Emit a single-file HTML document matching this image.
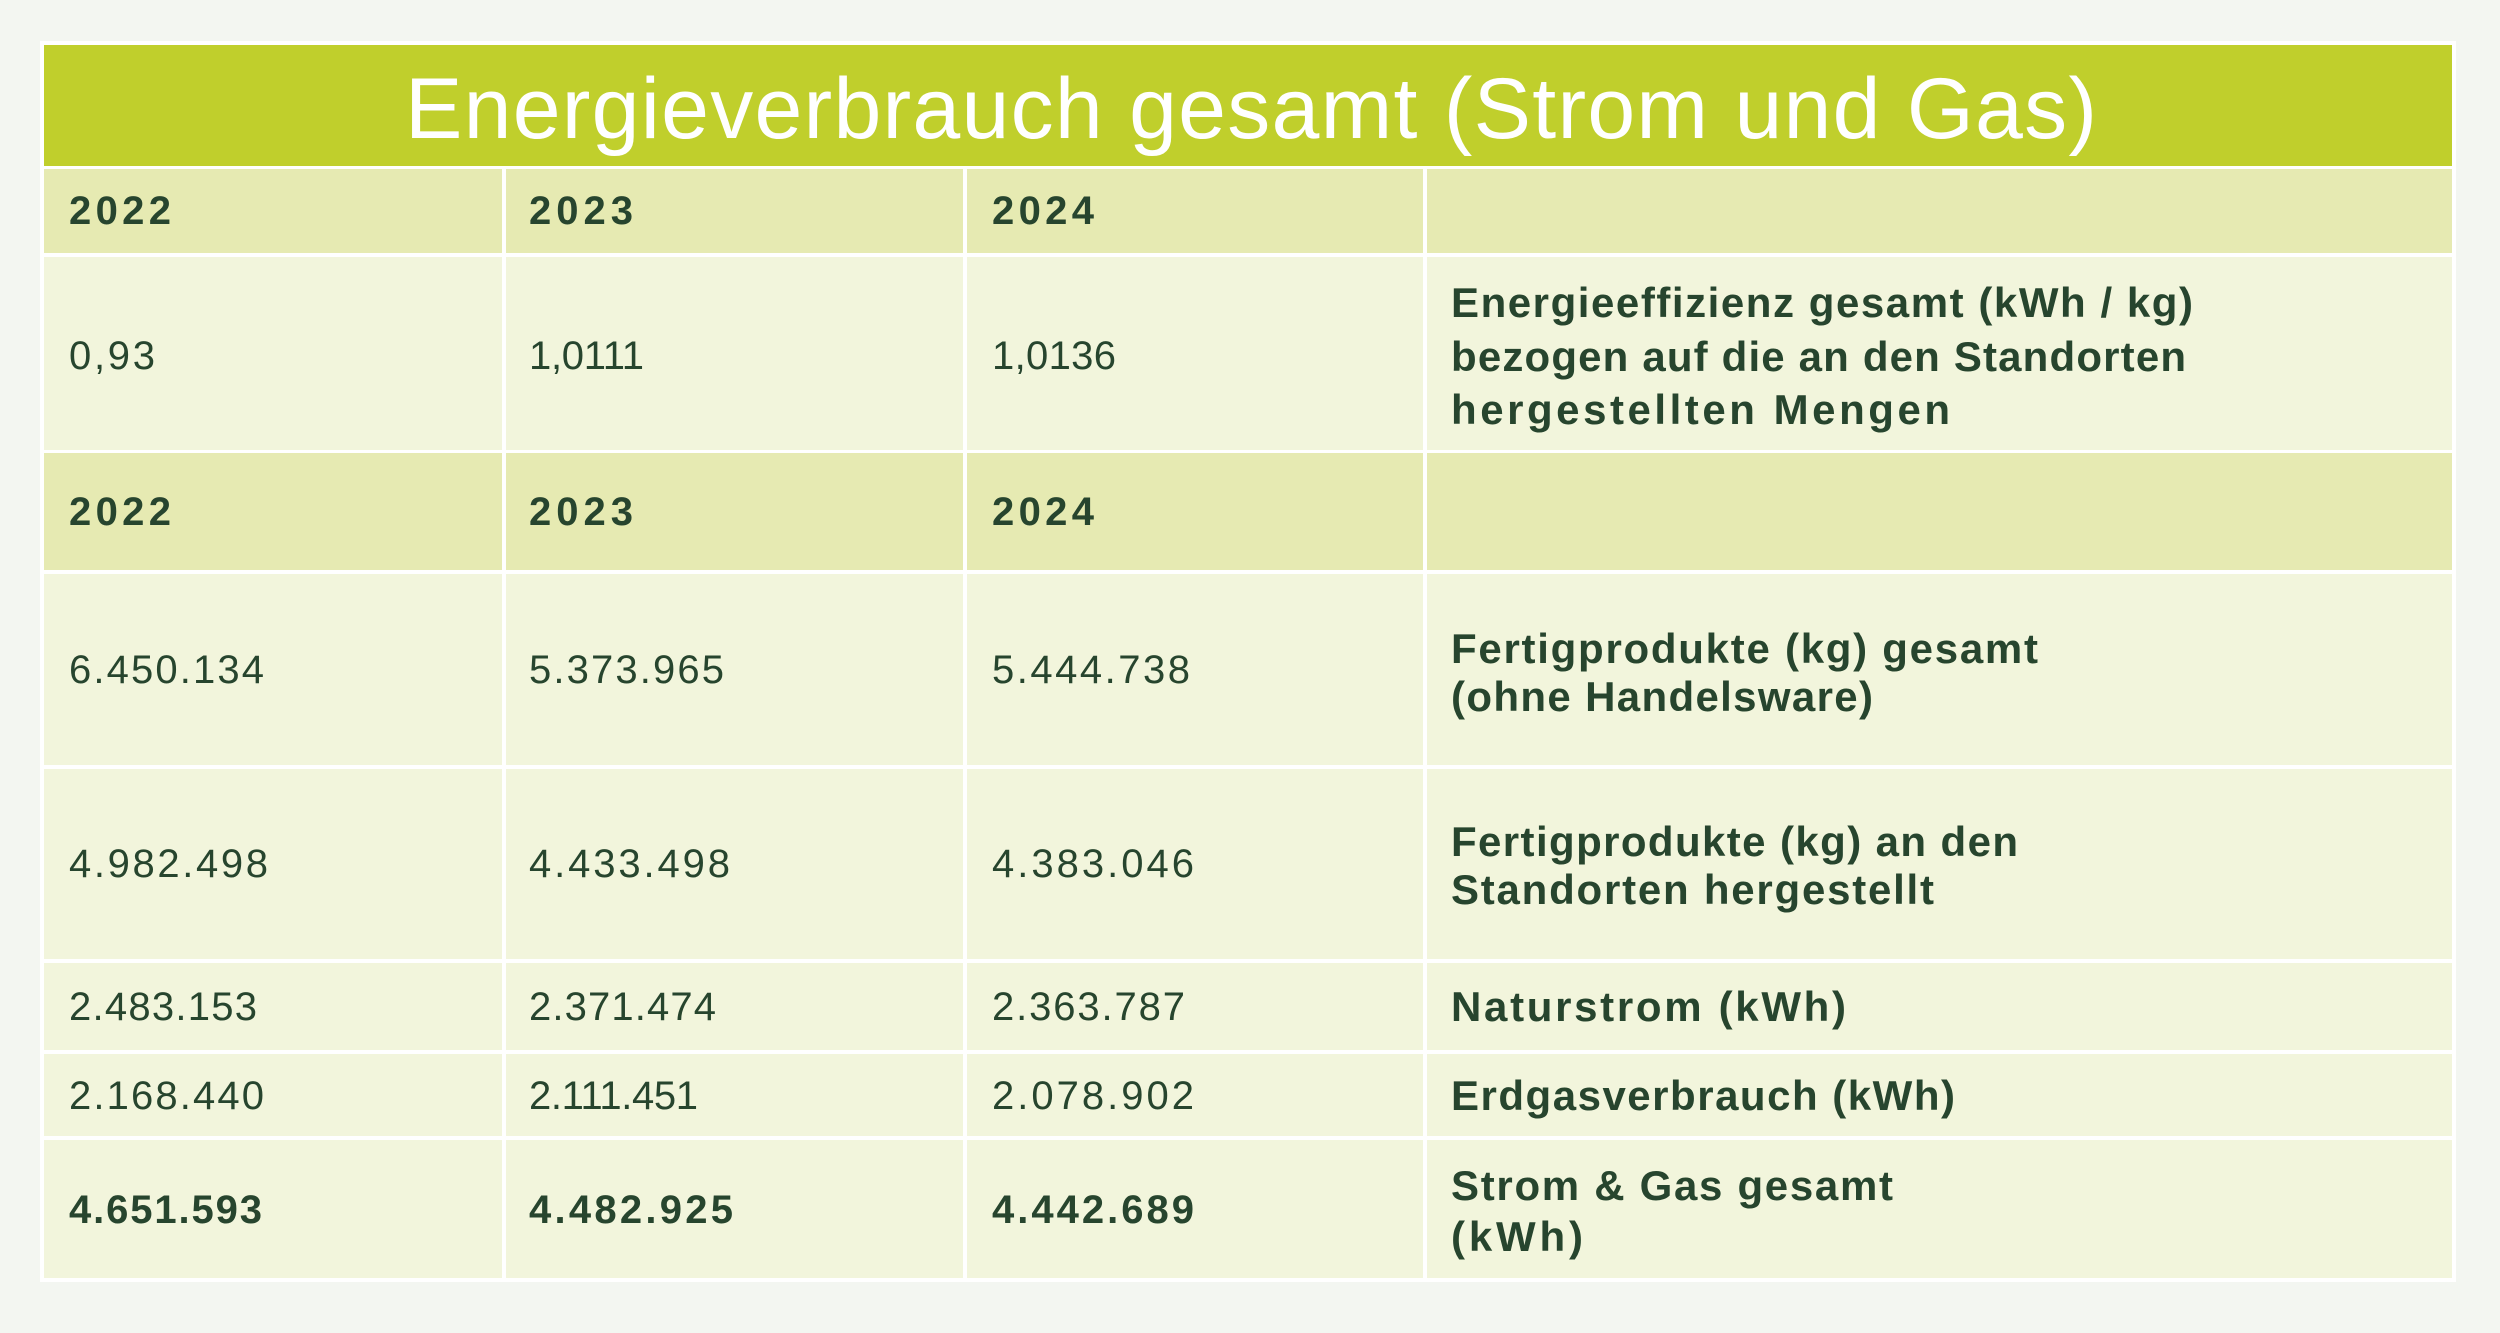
<!DOCTYPE html>
<html><head><meta charset="utf-8"><style>
html,body{margin:0;padding:0;background:#f3f6f1;}
svg{display:block}
.n{font-family:"Liberation Sans",sans-serif;font-size:40px;fill:#27452e}
.b{font-family:"Liberation Sans",sans-serif;font-size:42px;font-weight:bold;fill:#27452e}
.h{font-family:"Liberation Sans",sans-serif;font-size:40px;font-weight:bold;fill:#27452e}
.t{font-family:"Liberation Sans",sans-serif;font-size:86px;fill:#fff}
</style></head><body>
<svg width="2500" height="1333" viewBox="0 0 2500 1333" xmlns="http://www.w3.org/2000/svg">
<rect x="0" y="0" width="2500" height="1333" fill="#f3f6f1"/>
<rect x="40" y="41" width="2416" height="1241" fill="#ffffff"/>
<rect x="44" y="45" width="2408" height="121" fill="#c0cf2c"/>
<g fill="#e6eab2">
<rect x="44" y="169" width="458" height="84"/><rect x="506" y="169" width="457" height="84"/><rect x="967" y="169" width="456" height="84"/><rect x="1427" y="169" width="1025" height="84"/>
<rect x="44" y="453" width="458" height="117"/><rect x="506" y="453" width="457" height="117"/><rect x="967" y="453" width="456" height="117"/><rect x="1427" y="453" width="1025" height="117"/>
</g>
<g fill="#f2f5dc">
<rect x="44" y="257" width="458" height="193"/><rect x="506" y="257" width="457" height="193"/><rect x="967" y="257" width="456" height="193"/><rect x="1427" y="257" width="1025" height="193"/>
<rect x="44" y="574" width="458" height="191"/><rect x="506" y="574" width="457" height="191"/><rect x="967" y="574" width="456" height="191"/><rect x="1427" y="574" width="1025" height="191"/>
<rect x="44" y="769" width="458" height="190"/><rect x="506" y="769" width="457" height="190"/><rect x="967" y="769" width="456" height="190"/><rect x="1427" y="769" width="1025" height="190"/>
<rect x="44" y="963" width="458" height="87"/><rect x="506" y="963" width="457" height="87"/><rect x="967" y="963" width="456" height="87"/><rect x="1427" y="963" width="1025" height="87"/>
<rect x="44" y="1054" width="458" height="82"/><rect x="506" y="1054" width="457" height="82"/><rect x="967" y="1054" width="456" height="82"/><rect x="1427" y="1054" width="1025" height="82"/>
<rect x="44" y="1140" width="458" height="138"/><rect x="506" y="1140" width="457" height="138"/><rect x="967" y="1140" width="456" height="138"/><rect x="1427" y="1140" width="1025" height="138"/>
</g>
<text class="t" x="405" y="138" textLength="1692" lengthAdjust="spacing">Energieverbrauch gesamt (Strom und Gas)</text>

<text class="h" x="69" y="224" textLength="102">2022</text>
<text class="h" x="529" y="224" textLength="104">2023</text>
<text class="h" x="992" y="224" textLength="102">2024</text>

<text class="n" x="69" y="369" textLength="86">0,93</text>
<text class="n" x="529" y="369" textLength="115">1,0111</text>
<text class="n" x="992" y="369" textLength="124">1,0136</text>
<text class="b" x="1451" y="317" textLength="742">Energieeffizienz gesamt (kWh / kg)</text>
<text class="b" x="1451" y="371" textLength="735">bezogen auf die an den Standorten</text>
<text class="b" x="1451" y="424" textLength="499">hergestellten Mengen</text>

<text class="h" x="69" y="525" textLength="102">2022</text>
<text class="h" x="529" y="525" textLength="104">2023</text>
<text class="h" x="992" y="525" textLength="102">2024</text>

<text class="n" x="69" y="683" textLength="195">6.450.134</text>
<text class="n" x="529" y="683" textLength="195">5.373.965</text>
<text class="n" x="992" y="683" textLength="198">5.444.738</text>
<text class="b" x="1451" y="663" textLength="587">Fertigprodukte (kg) gesamt</text>
<text class="b" x="1451" y="711" textLength="422">(ohne Handelsware)</text>

<text class="n" x="69" y="877" textLength="199">4.982.498</text>
<text class="n" x="529" y="877" textLength="201">4.433.498</text>
<text class="n" x="992" y="877" textLength="202">4.383.046</text>
<text class="b" x="1451" y="856" textLength="567">Fertigprodukte (kg) an den</text>
<text class="b" x="1451" y="904" textLength="483">Standorten hergestellt</text>

<text class="n" x="69" y="1020" textLength="188">2.483.153</text>
<text class="n" x="529" y="1020" textLength="187">2.371.474</text>
<text class="n" x="992" y="1020" textLength="193">2.363.787</text>
<text class="b" x="1451" y="1021" textLength="395">Naturstrom (kWh)</text>

<text class="n" x="69" y="1109" textLength="195">2.168.440</text>
<text class="n" x="529" y="1109" textLength="169">2.111.451</text>
<text class="n" x="992" y="1109" textLength="202">2.078.902</text>
<text class="b" x="1451" y="1110" textLength="504">Erdgasverbrauch (kWh)</text>

<text class="h" x="69" y="1223" textLength="193">4.651.593</text>
<text class="h" x="529" y="1223" textLength="204">4.482.925</text>
<text class="h" x="992" y="1223" textLength="202">4.442.689</text>
<text class="b" x="1451" y="1200" textLength="442">Strom &amp; Gas gesamt</text>
<text class="b" x="1451" y="1251" textLength="132">(kWh)</text>
</svg>
</body></html>
